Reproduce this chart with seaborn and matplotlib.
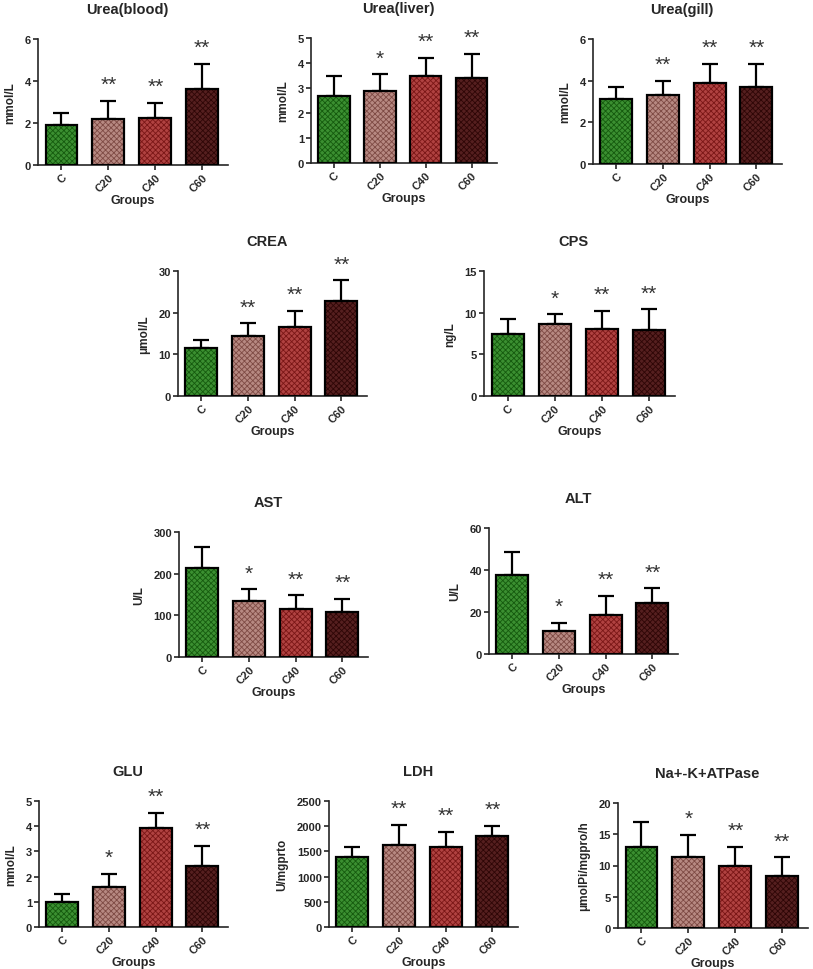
import numpy as np
import pandas as pd
import matplotlib
matplotlib.use('Agg')
import matplotlib.pyplot as plt
import seaborn as sns

groups = ['C', 'C20', 'C40', 'C60']
fill_colors = ['#2f9e22', '#c08279', '#c2302e', '#5e1616']
dot_colors = ['#155a0e', '#7e4a44', '#7a1616', '#2e0606']

# means and SD (upper error bar)
urea_blood_mean = [1.9, 2.2, 2.25, 3.6]
urea_blood_sd = [0.6, 0.85, 0.7, 1.2]
urea_liver_mean = [2.7, 2.9, 3.5, 3.4]
urea_liver_sd = [0.8, 0.65, 0.7, 0.97]
urea_gill_mean = [3.1, 3.3, 3.9, 3.7]
urea_gill_sd = [0.6, 0.7, 0.9, 1.1]
crea_mean = [11.5, 14.5, 16.5, 22.8]
crea_sd = [2.0, 3.0, 4.0, 5.0]
cps_mean = [7.4, 8.7, 8.1, 7.9]
cps_sd = [1.9, 1.1, 2.1, 2.5]
ast_mean = [213, 134, 115, 107]
ast_sd = [50, 29, 33, 33]
alt_mean = [37.8, 11.0, 18.8, 24.5]
alt_sd = [10.7, 4.0, 8.9, 6.8]
glu_mean = [1.0, 1.6, 3.92, 2.42]
glu_sd = [0.3, 0.5, 0.6, 0.8]
ldh_mean = [1380, 1620, 1590, 1800]
ldh_sd = [200, 400, 300, 200]
nak_mean = [13.0, 11.4, 10.0, 8.3]
nak_sd = [4.0, 3.5, 3.0, 3.0]

# significance marks vs control
blood_sig = ['', '**', '**', '**']
liver_sig = ['', '*', '**', '**']
gill_sig = ['', '**', '**', '**']
crea_sig = ['', '**', '**', '**']
cps_sig = ['', '*', '**', '**']
ast_sig = ['', '*', '**', '**']
alt_sig = ['', '*', '**', '**']
glu_sig = ['', '*', '**', '**']
ldh_sig = ['', '**', '**', '**']
nak_sig = ['', '*', '**', '**']

panels = [
    ('Urea(blood)', 'mmol/L', urea_blood_mean, urea_blood_sd, blood_sig, 6, 2),
    ('Urea(liver)', 'mmol/L', urea_liver_mean, urea_liver_sd, liver_sig, 5, 1),
    ('Urea(gill)', 'mmol/L', urea_gill_mean, urea_gill_sd, gill_sig, 6, 2),
    ('CREA', 'μmol/L', crea_mean, crea_sd, crea_sig, 30, 10),
    ('CPS', 'ng/L', cps_mean, cps_sd, cps_sig, 15, 5),
    ('AST', 'U/L', ast_mean, ast_sd, ast_sig, 300, 100),
    ('ALT', 'U/L', alt_mean, alt_sd, alt_sig, 60, 20),
    ('GLU', 'mmol/L', glu_mean, glu_sd, glu_sig, 5, 1),
    ('LDH', 'U/mgprto', ldh_mean, ldh_sd, ldh_sig, 2500, 500),
    ('Na+-K+ATPase', 'μmolPi/mgpro/h', nak_mean, nak_sd, nak_sig, 20, 5),
]

# axes boxes in pixels: left, top, right, bottom
boxes = [
    (38, 40, 228, 166), (311, 39, 497, 164), (593, 40, 782, 165),
    (178, 272, 367, 397), (484, 272, 675, 397),
    (179, 533, 368, 658), (489, 529, 678, 655),
    (39, 802, 228, 928), (329, 802, 518, 928), (618, 804, 808, 929),
]

sns.set_style('ticks')
plt.rcParams['font.family'] = ['Liberation Sans', 'DejaVu Sans']
plt.rcParams['font.weight'] = 'bold'
plt.rcParams['hatch.linewidth'] = 0.6

W, H = 813, 970
fig = plt.figure(figsize=(W / 100, H / 100), dpi=100)

for (title, unit, mean, sd, sig, ymax, step), (l, t, r, b) in zip(panels, boxes):
    ax = fig.add_axes([l / W, 1 - b / H, (r - l) / W, (b - t) / H])
    df = pd.DataFrame({'group': groups, 'value': mean})
    sns.barplot(data=df, x='group', y='value', hue='group', palette=fill_colors,
                legend=False, errorbar=None, width=0.68, ax=ax, zorder=2)
    for p, dc in zip(ax.patches, dot_colors):
        p.set_hatch('xxxxxx')
        p.set_edgecolor(dc)
        p.set_linewidth(0)
    x = np.arange(len(groups))
    ax.bar(x, mean, width=0.68, fill=False, edgecolor='black', linewidth=1.6, zorder=3)
    ax.errorbar(x, mean, yerr=[np.zeros(len(sd)), sd], fmt='none', ecolor='black',
                elinewidth=1.6, capsize=6, capthick=1.6, zorder=1)
    for xi, m, s, mark in zip(x, mean, sd, sig):
        if mark:
            ax.text(xi, m + s + 0.13 * ymax, mark, ha='center',
                    va='center', fontsize=15, fontweight='normal', color='#333333',
                    clip_on=False)
    ax.set_xlim(-0.5, 3.55)
    ax.set_ylim(0, ymax)
    ax.set_yticks(np.arange(0, ymax + step / 2, step))
    ax.set_title(title, fontsize=10.5, fontweight='bold', pad=19, x=0.47)
    ax.set_ylabel(unit, fontsize=8.5, fontweight='bold', labelpad=6)
    ax.set_xlabel('Groups', fontsize=9, fontweight='bold', labelpad=0)
    ax.tick_params(axis='both', labelsize=8, width=1.2, length=3.5, pad=1.5)
    plt.setp(ax.get_xticklabels(), rotation=45, ha='right', rotation_mode='anchor',
             fontweight='bold')
    plt.setp(ax.get_yticklabels(), fontweight='bold')
    for side in ['left', 'bottom']:
        ax.spines[side].set_linewidth(1.2)
    sns.despine(ax=ax)

fig.savefig('out.png', dpi=100)
